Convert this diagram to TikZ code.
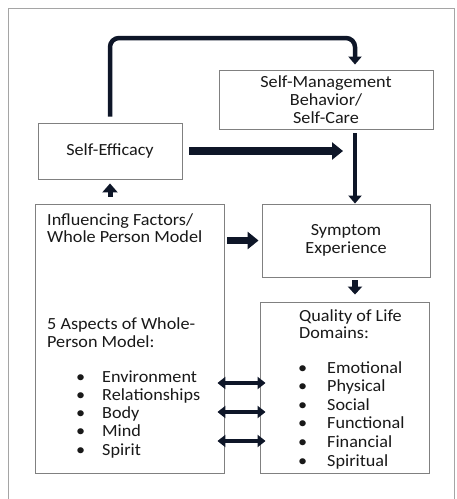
\documentclass[tikz,border=0pt]{standalone}
\usepackage{fontspec}
\setmainfont{Carlito}[FakeStretch=1.07]
\usetikzlibrary{arrows.meta, calc}
\definecolor{cArrow}{RGB}{14,22,40}
\definecolor{cBox}{RGB}{128,128,128}
\definecolor{cFrame}{RGB}{165,165,165}
\definecolor{cText}{RGB}{25,25,25}
\tikzset{
	box/.style      ={rectangle, draw=cBox, line width=0.9pt, inner sep=0pt, align=center, text=cText},
	txt/.style      ={anchor=base west, inner sep=0pt, text=cText},
	thinarrow/.style={-{Triangle[width=13pt, length=8pt]}, line width=4.5pt, draw=cArrow},
	fatarrow/.style ={-{Triangle[width=17pt, length=11pt]}, line width=7.5pt, draw=cArrow},
	twoway/.style   ={{Triangle[width=12pt, length=8pt]}-{Triangle[width=12pt, length=8pt]}, line width=4pt, draw=cArrow},
}

\begin{document}
\begin{tikzpicture}[x=1pt, y=-1pt, every node/.style={font=\fontsize{17}{18}\selectfont}]
	\fill[white] (0,0) rectangle (457,499);
	\useasboundingbox (0,0) rectangle (457,499);
	\draw[cFrame, line width=0.9pt] (8,499) |- (454,8) -- (454,499);

	% boxes
	\node[box, minimum width=214pt, minimum height=59pt] (sm) at (326,99.5) {Self-Management\\Behavior/\\Self-Care};
	\node[box, minimum width=144pt, minimum height=56pt] (se) at (110,151) {Self-Efficacy};
	\node[box, minimum width=189pt, minimum height=269pt] (inf) at (129.5,338.5) {};
	\node[box, minimum width=168pt, minimum height=73pt] (sym) at (346,240.5) {Symptom\\Experience};
	\node[box, minimum width=169pt, minimum height=171pt] (qol) at (344.5,387.5) {};

	% text of the two big boxes
	\node[txt] (infa) at (47,225) {Influencing Factors/};
	\node[txt] (infb) at (47,242) {Whole Person Model};
	\node[txt] (aspa) at (47,329) {5 Aspects of Whole-};
	\node[txt] (aspb) at (47,347) {Person Model:};
	\foreach \t [count=\i from 0] in {Environment, Relationships, Body, Mind, Spirit}
		\node[txt] (asp\i) at (76,382+18.25*\i) {\makebox[26pt][l]{\textbullet}\t};
	\node[txt] (qola) at (299,321) {Quality of Life};
	\node[txt] (qolb) at (299,338) {Domains:};
	\foreach \t [count=\i from 0] in {Emotional, Physical, Social, Functional, Financial, Spiritual}
		\node[txt] (dom\i) at (298,373+18.6*\i) {\makebox[29pt][l]{\textbullet}\t};

	% connectors
	\coordinate (bend) at (355,38);
	\coordinate (join) at (343,151);
	\draw[thinarrow, rounded corners=9pt] ([yshift=6pt]se.north) |- (bend) -- ([yshift=5pt]sm.north -| bend);
	\draw[fatarrow] ([xshift=7pt]se.east) -- (join);
	\draw[thinarrow] ([yshift=-4pt]sm.south -| bend) -- (sym.north -| bend);
	\draw[thinarrow, line width=5pt, -{Triangle[width=15pt, length=9pt]}] ([yshift=7pt]inf.north -| se.south) -- ([yshift=-4pt]se.south);
	\draw[fatarrow] ([xshift=3pt]inf.east |- sym.west) -- ([xshift=-3pt]sym.west);
	\draw[thinarrow, line width=6pt, -{Triangle[width=14pt, length=8pt]}] ([yshift=-3pt]sym.south -| bend) -- ([yshift=7pt]qol.north -| bend);
	\foreach \y in {383,412,441}
		\draw[twoway] ([xshift=-7pt]inf.east |- 0,\y) -- ([xshift=6pt]qol.west |- 0,\y);
\end{tikzpicture}
\end{document}
